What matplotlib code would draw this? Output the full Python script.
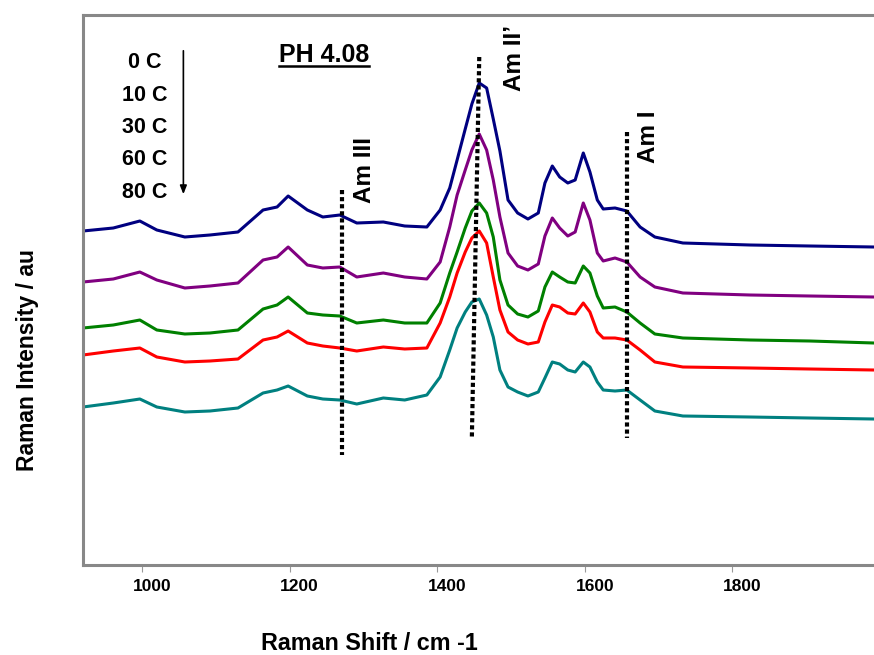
import matplotlib
matplotlib.use("Agg")
import matplotlib.pyplot as plt
import matplotlib.transforms as mtransforms

plt.rcParams["font.family"] = ["Liberation Sans", "DejaVu Sans"]
plt.rcParams["font.weight"] = "bold"

# Raman shift (cm-1) sample points
shift = [920, 961, 997, 1020, 1058, 1092, 1130, 1164, 1183, 1198, 1224, 1245,
         1268, 1291, 1327, 1356, 1386, 1404, 1417, 1427, 1438, 1447, 1457, 1467,
         1476, 1485, 1496, 1509, 1523, 1537, 1546, 1556, 1566, 1577, 1587, 1598,
         1607, 1617, 1625, 1641, 1657, 1675, 1695, 1733, 1824, 1905, 1992]

# intensities (arbitrary units, curves already offset as in the figure)
int_0c = [334, 337, 344, 335, 328, 330, 333, 355, 358, 369, 355, 348,
          350, 342, 343, 339, 338, 355, 377, 405, 436, 461, 482, 477,
          446, 414, 365, 352, 346, 352, 382, 399, 388, 382, 385, 412,
          393, 365, 356, 357, 354, 338, 328, 322, 320, 319, 318]
int_10c = [283, 286, 293, 285, 277, 279, 282, 305, 308, 318, 300, 297,
           298, 288, 292, 288, 286, 303, 338, 370, 395, 415, 431, 415,
           385, 348, 312, 299, 295, 301, 329, 347, 337, 329, 333, 362,
           345, 312, 304, 307, 303, 288, 278, 272, 270, 269, 268]
int_30c = [237, 240, 245, 235, 231, 232, 235, 256, 260, 268, 252, 250,
           249, 242, 245, 242, 242, 262, 292, 313, 337, 354, 362, 352,
           328, 285, 260, 251, 248, 254, 278, 293, 288, 283, 282, 299,
           292, 269, 257, 258, 253, 242, 231, 227, 225, 224, 222]
int_60c = [210, 214, 217, 208, 203, 204, 206, 225, 228, 234, 222, 219,
           217, 214, 218, 216, 217, 242, 268, 292, 313, 327, 334, 322,
           288, 255, 233, 225, 221, 223, 243, 260, 258, 252, 251, 262,
           253, 233, 227, 227, 225, 215, 203, 198, 197, 196, 195]
int_80c = [158, 162, 166, 158, 153, 154, 157, 172, 175, 179, 169, 166,
           165, 161, 167, 165, 170, 188, 215, 237, 253, 263, 266, 250,
           228, 195, 178, 173, 169, 173, 187, 203, 201, 195, 193, 203,
           198, 183, 175, 174, 175, 165, 154, 149, 148, 147, 146]

series = [int_0c, int_10c, int_30c, int_60c, int_80c]
temps = ["0 C", "10 C", "30 C", "60 C", "80 C"]
colors = ["#000080", "#800080", "#008000", "#ff0000", "#008080"]

# band markers: (label, x_top, x_bottom, y_top, y_bottom)
bands = [("Am III", 1271, 1271, 375, 110),
         ("Am II\u2019", 1457, 1447, 508, 128),
         ("Am I", 1657, 1657, 433, 127)]
band_label_pos = [(1301, 395), (1505, 507), (1686, 428)]

fig = plt.figure(figsize=(8.74, 6.55), dpi=100)
ax = fig.add_axes([0.095, 0.1374, 0.905, 0.8397])

for vals, c in zip(series, colors):
    ax.plot(shift, vals, color=c, lw=2.2, solid_joinstyle="round")

for (name, xt, xb, yt, yb), (lx, ly) in zip(bands, band_label_pos):
    ax.plot([xt, xb], [yt, yb], color="black", lw=3, linestyle=(0, (1.0, 0.7)))
    ax.text(lx, ly, name, rotation=90, ha="center", va="center", fontsize=17.5)

# temperature list with arrow
temp_y = [502, 470, 438, 406, 373]
for t, y in zip(temps, temp_y):
    ax.text(1004, y, t, ha="center", va="center", fontsize=15.5)
ax.annotate("", xy=(1056, 368), xytext=(1056, 517),
            arrowprops=dict(arrowstyle="-|>,head_length=0.5,head_width=0.2",
                            color="black", lw=1.2))

ax.set_xlim(920, 1992)
ax.set_ylim(0, 550)
ax.set_xticks([1000, 1200, 1400, 1600, 1800])
ax.set_yticks([])
ax.tick_params(axis="x", direction="out", length=5, color="#999999",
               labelsize=12.5, pad=5)
shift_right = mtransforms.ScaledTranslation(10 / 100, 0, fig.dpi_scale_trans)
for lab in ax.get_xticklabels():
    lab.set_fontweight("bold")
    lab.set_transform(lab.get_transform() + shift_right)

for side in ["left", "top", "bottom"]:
    ax.spines[side].set_color("#888888")
    ax.spines[side].set_linewidth(2.2)
ax.spines["right"].set_visible(False)

fig.text(0.423, 0.017, "Raman Shift / cm -1", ha="center", va="center",
         fontsize=16.8)
fig.text(0.031, 0.45, "Raman Intensity / au", ha="center", va="center",
         rotation=90, fontsize=16.5)

ph = ax.text(1247, 510, "PH 4.08", ha="center", va="center", fontsize=18)
fig.canvas.draw()
bb = ph.get_window_extent().transformed(fig.transFigure.inverted())
fig.add_artist(plt.Line2D([bb.x0, bb.x1], [bb.y0 + 0.002, bb.y0 + 0.002],
                          color="black", lw=1.8, transform=fig.transFigure))

fig.savefig("out.png", dpi=100)
